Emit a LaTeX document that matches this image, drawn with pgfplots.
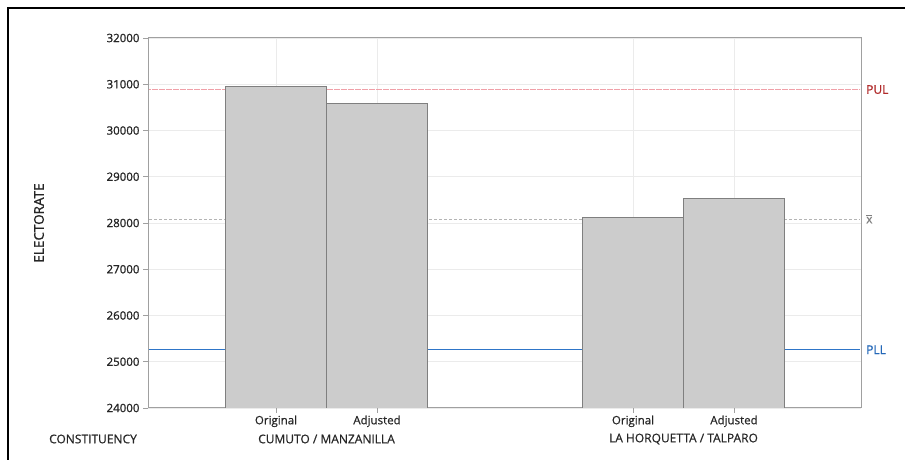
\documentclass[border=0pt]{standalone}
\usepackage{pgfplots}
\pgfplotsset{compat=1.18}
\usepackage{fontspec}
\setmainfont{Open Sans}[FakeBold=0.6]
\newfontfamily\semib{Open Sans}[FakeBold=1.2]
\definecolor{barfill}{HTML}{CCCCCC}
\definecolor{baredge}{HTML}{7F7F7F}
\definecolor{gridc}{HTML}{EBEBEB}
\definecolor{axc}{HTML}{A0A0A0}
\definecolor{pulc}{HTML}{F0A0A8}
\definecolor{pultext}{HTML}{B02A2A}
\definecolor{pllc}{HTML}{2E75C8}
\definecolor{plltext}{HTML}{2468B8}
\definecolor{xbarc}{HTML}{B4B4B4}
\definecolor{txt}{HTML}{262626}
\begin{document}
\begin{tikzpicture}[x=1pt,y=1pt]
\path[use as bounding box] (0,0) rectangle (905,460);
\begin{axis}[
  at={(148pt,52pt)}, anchor=south west,
  scale only axis, width=713pt, height=370pt,
  xmin=148, xmax=861, ymin=24000, ymax=32000,
  ytick={24000,25000,...,32000},
  xtick={276,377,633,734},
  xticklabels={Original,Adjusted,Original,Adjusted},
  scaled y ticks=false,
  yticklabel style={/pgf/number format/fixed, /pgf/number format/1000 sep={}},
  /pgf/number format/assume math mode=true,
  tick label style={font=\fontsize{11.5}{13}\selectfont, text=txt},
  y tick label style={font=\semib\fontsize{11.5}{13}\selectfont},
  tick align=outside, major tick length=5pt,
  tick style={draw=axc, line width=0.8pt},
  xtick pos=bottom, ytick pos=left,
  grid=major, major grid style={draw=gridc, line width=0.8pt},
  axis line style={draw=axc, line width=1pt},
  x tick label style={yshift=1pt},
]
\addplot[draw=pulc, line width=1.2pt, dash pattern=on 2pt off 1.5pt] coordinates {(149,30885) (860,30885)} -- cycle;
\addplot[xbarc, line width=1pt, dash pattern=on 3pt off 2pt] coordinates {(149,28080) (860,28080)};
\addplot[fill=pllc, draw=none] coordinates {(149,25248) (860,25248) (860,25272) (149,25272)} -- cycle;
\addplot[ybar, bar width=101, fill=barfill, draw=baredge, line width=0.9pt] coordinates {(276,30957) (377,30577) (633,28123) (734,28534)};
\coordinate (pul) at (axis cs:861,30885);
\coordinate (xb) at (axis cs:861,28080);
\coordinate (pll) at (axis cs:861,25260);
\end{axis}
\node[anchor=west, text=pultext, font=\semib\fontsize{12}{13}\selectfont, inner sep=0pt] at ([xshift=5pt]pul) {PUL};
\node[anchor=west, text=gray, font=\fontsize{12}{13}\selectfont, inner sep=0pt] at ([xshift=5pt]xb) {x\kern-0.5em\raisebox{0.62em}{\rule{0.45em}{0.6pt}}};
\node[anchor=west, text=plltext, font=\semib\fontsize{12}{13}\selectfont, inner sep=0pt] at ([xshift=5pt]pll) {PLL};
\node[rotate=90, text=txt, font=\semib\fontsize{13.5}{15}\selectfont] at (39,237) {ELECTORATE};
\node[text=txt, font=\fontsize{12}{13}\selectfont] at (93,21) {CONSTITUENCY};
\node[text=txt, font=\fontsize{12}{13}\selectfont] at (326.5,21) {CUMUTO / MANZANILLA};
\node[text=txt, font=\fontsize{12}{13}\selectfont] at (683.5,21) {LA HORQUETTA / TALPARO};
\draw[black, line width=2.5pt] (8,0) -- (8,452) -- (905,452);
\end{tikzpicture}
\end{document}
